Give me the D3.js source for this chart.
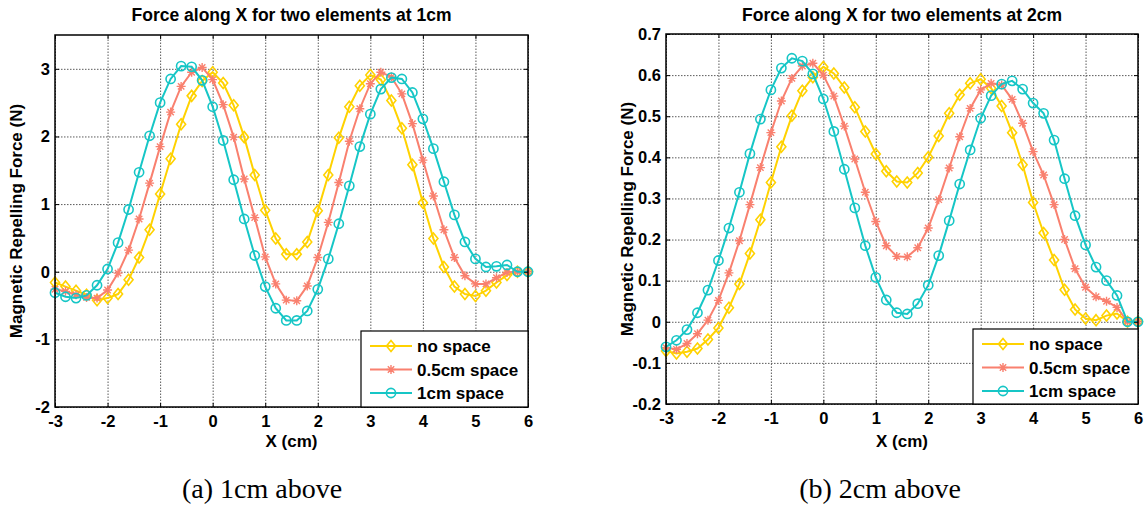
<!DOCTYPE html>
<html>
<head>
<meta charset="utf-8">
<script src="https://cdn.jsdelivr.net/npm/d3@7"></script>
<style>
    body { margin: 0; background: #fff; }
    svg text { font-family: "Liberation Sans", Arial, sans-serif; font-weight: bold; fill: #000; }
    .grid line { stroke: #5a5a5a; stroke-width: 1; stroke-dasharray: 1.5 1.5; }
    .grid .domain { display: none; }
    .axis .domain { display: none; }
    .axis line { stroke: #000; stroke-width: 1; }
</style>
</head>
<body>
<svg id="chart" width="1146" height="508"></svg>
<script>
// sampling positions (cm), shared by every curve
const xPositions = [-3, -2.8, -2.6, -2.4, -2.2, -2, -1.8, -1.6, -1.4, -1.2, -1, -0.8, -0.6, -0.4, -0.2,
    0, 0.2, 0.4, 0.6, 0.8, 1, 1.2, 1.4, 1.6, 1.8, 2, 2.2, 2.4, 2.6, 2.8, 3, 3.2, 3.4, 3.6, 3.8,
    4, 4.2, 4.4, 4.6, 4.8, 5, 5.2, 5.4, 5.6, 5.8, 6]

// (a) elements 1cm above
const leftNoSpace = [-0.16, -0.22, -0.28, -0.34, -0.42, -0.39, -0.33, -0.12, 0.21, 0.62, 1.15, 1.67, 2.18, 2.60, 2.82,
    2.95, 2.79, 2.46, 1.99, 1.43, 0.91, 0.49, 0.26, 0.26, 0.44, 0.90, 1.43, 1.98, 2.44, 2.75, 2.91, 2.84, 2.53, 2.12, 1.58,
    1.02, 0.49, 0.07, -0.22, -0.33, -0.36, -0.28, -0.16, -0.05, 0, 0]
const leftHalfCm = [-0.26, -0.29, -0.34, -0.38, -0.39, -0.27, -0.02, 0.32, 0.78, 1.31, 1.85, 2.36, 2.74, 2.95, 3.02,
    2.84, 2.47, 1.99, 1.37, 0.80, 0.22, -0.18, -0.42, -0.43, -0.21, 0.21, 0.73, 1.32, 1.93, 2.41, 2.78, 2.95, 2.88, 2.63, 2.19,
    1.65, 1.12, 0.62, 0.21, -0.06, -0.18, -0.18, -0.09, -0.01, 0, 0]
const leftOneCm = [-0.31, -0.37, -0.39, -0.35, -0.20, 0.04, 0.43, 0.92, 1.47, 2.01, 2.50, 2.85, 3.04, 3.03, 2.83,
    2.44, 1.94, 1.36, 0.78, 0.24, -0.22, -0.54, -0.72, -0.72, -0.58, -0.26, 0.19, 0.71, 1.27, 1.85, 2.33, 2.70, 2.87, 2.85, 2.65,
    2.26, 1.82, 1.33, 0.84, 0.44, 0.19, 0.07, 0.08, 0.10, 0, 0]

// (b) elements 2cm above
const rightNoSpace = [-0.071, -0.077, -0.073, -0.065, -0.043, -0.015, 0.034, 0.092, 0.166, 0.248, 0.339, 0.426, 0.501, 0.562, 0.595,
    0.620, 0.604, 0.570, 0.522, 0.463, 0.408, 0.366, 0.341, 0.339, 0.362, 0.400, 0.452, 0.507, 0.552, 0.580, 0.590, 0.568, 0.525, 0.460, 0.382,
    0.290, 0.216, 0.150, 0.078, 0.030, 0.008, 0.004, 0.015, 0.020, 0, 0]
const rightHalfCm = [-0.063, -0.067, -0.053, -0.029, 0.004, 0.052, 0.119, 0.197, 0.285, 0.375, 0.460, 0.537, 0.592, 0.622, 0.629,
    0.600, 0.549, 0.476, 0.396, 0.315, 0.244, 0.185, 0.159, 0.158, 0.180, 0.228, 0.297, 0.374, 0.450, 0.519, 0.564, 0.580, 0.576, 0.541, 0.483,
    0.414, 0.357, 0.285, 0.200, 0.129, 0.084, 0.061, 0.050, 0.035, 0, 0]
const rightOneCm = [-0.061, -0.045, -0.019, 0.022, 0.077, 0.149, 0.228, 0.315, 0.409, 0.493, 0.564, 0.617, 0.641, 0.634, 0.603,
    0.542, 0.463, 0.371, 0.277, 0.185, 0.108, 0.053, 0.022, 0.019, 0.044, 0.089, 0.161, 0.246, 0.335, 0.418, 0.495, 0.550, 0.578, 0.586, 0.566,
    0.532, 0.507, 0.442, 0.348, 0.258, 0.187, 0.133, 0.100, 0.064, 0, 0]

const xTicks = [-3, -2, -1, 0, 1, 2, 3, 4, 5, 6]
const leftYTicks = [-2, -1, 0, 1, 2, 3]
const rightYTicks = [-0.2, -0.1, 0, 0.1, 0.2, 0.3, 0.4, 0.5, 0.6, 0.7]

const legendLabels = ['no space', '0.5cm space', '1cm space']
const seriesColors = ['#FFD200', '#F9806F', '#16C6C6']
const seriesMarkers = ['diamond', 'asterisk', 'circle']

const panels = [
    {
        title: 'Force along X for two elements at 1cm',
        caption: '(a) 1cm above',
        series: [leftNoSpace, leftHalfCm, leftOneCm],
        yDomain: [-2, 3.5],
        yTicks: leftYTicks,
        box: { left: 55, top: 35, right: 528, bottom: 407 },
        legend: { x: 361, y: 331, w: 167, h: 76 },
        captionX: 262,
    },
    {
        title: 'Force along X for two elements at 2cm',
        caption: '(b) 2cm above',
        series: [rightNoSpace, rightHalfCm, rightOneCm],
        yDomain: [-0.2, 0.7],
        yTicks: rightYTicks,
        box: { left: 666, top: 34, right: 1138, bottom: 404 },
        legend: { x: 973, y: 329, w: 165, h: 75 },
        captionX: 880,
    },
]

const svg = d3.select('#chart')

function drawMarker(g, kind, color) {
    if (kind === 'diamond') {
        g.append('path').attr('d', 'M0,-5.5L4.5,0L0,5.5L-4.5,0Z')
            .attr('fill', 'none').attr('stroke', color).attr('stroke-width', 1.6)
    } else if (kind === 'circle') {
        g.append('circle').attr('r', 4.6)
            .attr('fill', 'none').attr('stroke', color).attr('stroke-width', 1.6)
    } else {
        g.append('path').attr('d', 'M-4.5,0H4.5M0,-4.5V4.5M-3.2,-3.2L3.2,3.2M-3.2,3.2L3.2,-3.2')
            .attr('fill', 'none').attr('stroke', color).attr('stroke-width', 1.4)
    }
}

panels.forEach(p => {
    const b = p.box
    const x = d3.scaleLinear().domain([-3, 6]).range([b.left, b.right])
    const y = d3.scaleLinear().domain(p.yDomain).range([b.bottom, b.top])
    const fmt = d => String(+d.toFixed(2))
    const g = svg.append('g')

    // grid
    g.append('g').attr('class', 'grid')
        .attr('transform', `translate(0,${b.bottom})`)
        .call(d3.axisBottom(x).tickValues(xTicks).tickSize(-(b.bottom - b.top)).tickFormat(''))
    g.append('g').attr('class', 'grid')
        .attr('transform', `translate(${b.left},0)`)
        .call(d3.axisLeft(y).tickValues(p.yTicks).tickSize(-(b.right - b.left)).tickFormat(''))

    // curves
    const line = d3.line().x((d, i) => x(xPositions[i])).y(d => y(d))
    p.series.forEach((values, s) => {
        g.append('path').datum(values)
            .attr('d', line)
            .attr('fill', 'none')
            .attr('stroke', seriesColors[s])
            .attr('stroke-width', 2)
        g.append('g').selectAll('g')
            .data(values)
            .join('g')
            .attr('transform', (d, i) => `translate(${x(xPositions[i])},${y(d)})`)
            .each(function () { drawMarker(d3.select(this), seriesMarkers[s], seriesColors[s]) })
    })

    // axes with inward ticks
    g.append('g').attr('class', 'axis')
        .attr('transform', `translate(0,${b.bottom})`)
        .call(d3.axisBottom(x).tickValues(xTicks).tickSize(-4).tickPadding(8).tickFormat(fmt))
        .selectAll('text').style('font-size', '16.5px')
    g.append('g').attr('class', 'axis')
        .attr('transform', `translate(0,${b.top})`)
        .call(d3.axisTop(x).tickValues(xTicks).tickSize(-4).tickFormat(''))
    g.append('g').attr('class', 'axis')
        .attr('transform', `translate(${b.left},0)`)
        .call(d3.axisLeft(y).tickValues(p.yTicks).tickSize(-4).tickPadding(5).tickFormat(fmt))
        .selectAll('text').style('font-size', '16.5px')
    g.append('g').attr('class', 'axis')
        .attr('transform', `translate(${b.right},0)`)
        .call(d3.axisRight(y).tickValues(p.yTicks).tickSize(-4).tickFormat(''))

    g.append('rect')
        .attr('x', b.left).attr('y', b.top)
        .attr('width', b.right - b.left).attr('height', b.bottom - b.top)
        .attr('fill', 'none').attr('stroke', '#000').attr('stroke-width', 1.5)

    // legend
    const L = p.legend
    const lg = g.append('g').attr('transform', `translate(${L.x},${L.y})`)
    lg.append('rect').attr('width', L.w).attr('height', L.h)
        .attr('fill', '#fff').attr('stroke', '#000').attr('stroke-width', 1.2)
    legendLabels.forEach((label, s) => {
        const cy = 15 + s * 23.5
        lg.append('line').attr('x1', 9).attr('x2', 51).attr('y1', cy).attr('y2', cy)
            .attr('stroke', seriesColors[s]).attr('stroke-width', 2)
        drawMarker(lg.append('g').attr('transform', `translate(30,${cy})`), seriesMarkers[s], seriesColors[s])
        lg.append('text').attr('x', 56).attr('y', cy + 6)
            .style('font-size', '17px').text(label)
    })

    // titles and labels
    const cx = (b.left + b.right) / 2
    const cyMid = (b.top + b.bottom) / 2
    g.append('text').attr('x', cx).attr('y', 21)
        .attr('text-anchor', 'middle').style('font-size', '17.5px').text(p.title)
    g.append('text').attr('x', cx).attr('y', 447)
        .attr('text-anchor', 'middle').style('font-size', '17px').text('X (cm)')
    g.append('text')
        .attr('transform', `translate(${b.left - 33},${cyMid}) rotate(-90)`)
        .attr('text-anchor', 'middle').style('font-size', '17px')
        .text('Magnetic Repelling Force (N)')
    g.append('text').attr('x', p.captionX).attr('y', 498)
        .attr('text-anchor', 'middle')
        .style('font-family', '"Liberation Serif", "DejaVu Serif", serif')
        .style('font-weight', 'normal').style('font-size', '28px')
        .text(p.caption)
})
</script>
</body>
</html>
